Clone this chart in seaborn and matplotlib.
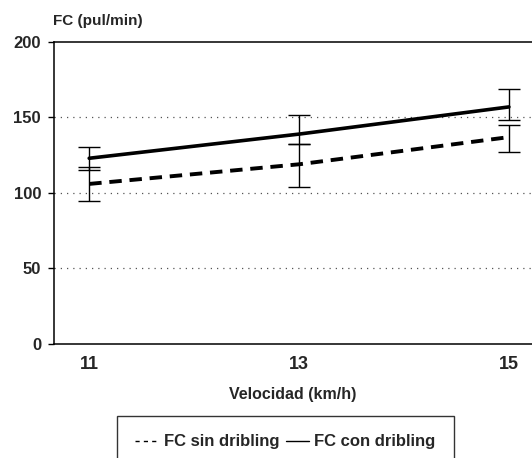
import matplotlib
matplotlib.use("Agg")
import matplotlib.pyplot as plt
from matplotlib.lines import Line2D
import seaborn as sns
import pandas as pd
import numpy as np

# Data
velocidad = [11, 13, 15]
fc_sin = [106, 119, 137]
fc_con = [123, 139, 157]
sin_low = [94.6, 104.1, 126.9]
sin_high = [117.3, 132.5, 145.2]
con_low = [115.5, 132.5, 148.5]
con_high = [130.5, 151.8, 168.8]
y_ticks = [0, 50, 100, 150, 200]
x_ticks = [11, 13, 15]

sns.set_theme(style="white")
plt.rcParams['font.family'] = ['Liberation Sans', 'DejaVu Sans']

df = pd.DataFrame({
    "Velocidad": velocidad * 2,
    "FC": fc_sin + fc_con,
    "Serie": ["FC sin dribling"] * 3 + ["FC con dribling"] * 3,
})

fig = plt.figure(figsize=(5.32, 4.58), dpi=100)
ax = fig.add_axes([0.1006, 0.249, 0.8994, 0.6593])

sns.lineplot(data=df[df.Serie == "FC con dribling"], x="Velocidad", y="FC",
             color="black", lw=2.6, ax=ax, legend=False)
sns.lineplot(data=df[df.Serie == "FC sin dribling"], x="Velocidad", y="FC",
             color="black", lw=2.8, ax=ax, legend=False)
ax.lines[1].set_dashes([3.2, 2.0])

for mean, lo, hi in [(fc_con, con_low, con_high), (fc_sin, sin_low, sin_high)]:
    m = np.array(mean)
    yerr = [m - np.array(lo), np.array(hi) - m]
    ax.errorbar(velocidad, m, yerr=yerr, fmt="none", ecolor="black",
                elinewidth=1, capsize=8, capthick=1)

ax.set_xlim(10.66, 15.22)
ax.set_ylim(0, 200)
ax.set_xticks(x_ticks)
ax.set_xticklabels([str(v) for v in x_ticks], fontsize=13, fontweight="bold")
ax.set_yticks(y_ticks)
ax.set_yticklabels([str(v) for v in y_ticks], fontsize=12, fontweight="bold")
ax.tick_params(axis="x", length=0, pad=9)
ax.tick_params(axis="y", length=4, width=1, direction="out", left=True, pad=5, color="black")

for g in [50, 100, 150]:
    ax.axhline(g, color="#555555", lw=0.9, ls=(0, (1, 4)), zorder=0)

for s in ["left", "bottom", "top"]:
    ax.spines[s].set_color("black")
    ax.spines[s].set_linewidth(1.1)
ax.spines["right"].set_visible(False)

ax.set_xlabel("Velocidad (km/h)", fontsize=11.5, fontweight="bold", labelpad=10)
ax.set_ylabel("")
fig.text(53 / 532, 1 - 21 / 458, "FC (pul/min)", fontsize=11, fontweight="bold",
         ha="left", va="center")

handles = [Line2D([], [], color="black", lw=1, dashes=[3, 3]),
           Line2D([], [], color="black", lw=1)]
leg = fig.legend(handles, ["FC sin dribling", "FC con dribling"], ncol=2,
                 loc="upper left", bbox_to_anchor=(117 / 532, 1 - 416 / 458),
                 frameon=True, fancybox=False, edgecolor="black",
                 prop={"weight": "bold", "size": 12}, handlelength=1.4,
                 handletextpad=0.3, columnspacing=0.4, borderpad=1.1,
                 borderaxespad=0)
leg.get_frame().set_linewidth(1)

fig.savefig("out.png", dpi=100, facecolor="white")
